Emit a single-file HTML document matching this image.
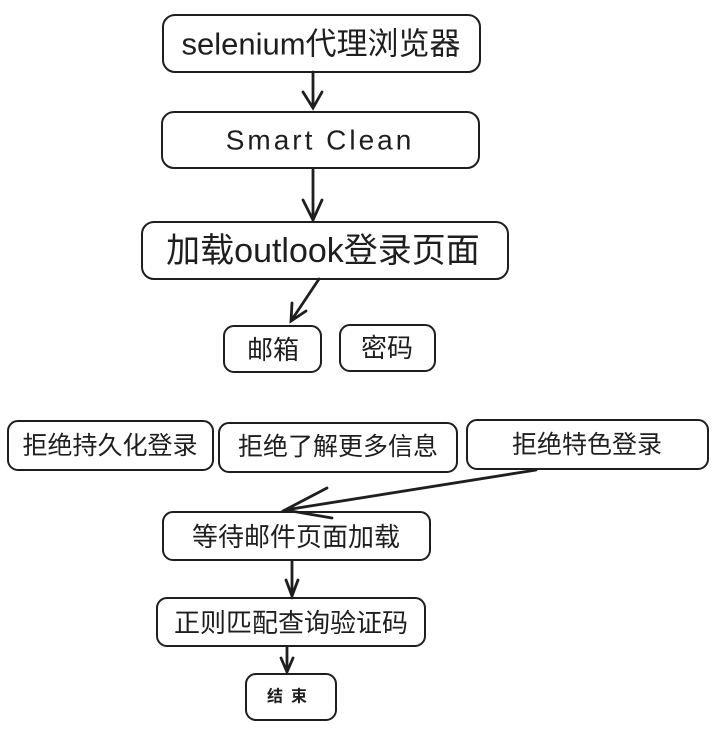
<!DOCTYPE html>
<html><head><meta charset="utf-8"><style>
html,body{margin:0;padding:0;background:#fff;}
svg text{font-family:"Liberation Sans","Noto Sans CJK SC",sans-serif;fill:#1e1e1e;dominant-baseline:central;text-anchor:middle;}
</style></head><body>
<svg width="712" height="724" viewBox="0 0 712 724" xmlns="http://www.w3.org/2000/svg">
<g fill="none" stroke="#1e1e1e" stroke-width="2">
<rect x="163" y="15" width="317" height="57" rx="12"/>
<rect x="162" y="112" width="317" height="56" rx="12"/>
<rect x="142" y="222" width="366" height="57" rx="12"/>
<rect x="224" y="326" width="97" height="46" rx="10"/>
<rect x="340" y="325" width="95" height="46" rx="10"/>
<rect x="8" y="421" width="205" height="49" rx="10"/>
<rect x="219" y="423" width="238" height="49" rx="10"/>
<rect x="467" y="420" width="241" height="49" rx="10"/>
<rect x="163" y="512" width="267" height="48" rx="10"/>
<rect x="157" y="598" width="268" height="48" rx="10"/>
<rect x="246" y="674" width="90" height="46" rx="10"/>
</g>
<g fill="none" stroke="#1e1e1e" stroke-width="2.8" stroke-linecap="round">
<path d="M313 72 L313 108 M303 92 L313 108 L322 92"/>
<path d="M313 170 L313 220 M303 200 L313 220 L322 200"/>
<path d="M319 279 L291 321 M292 303 L291 321 L306 311"/>
<path d="M536 470 L285 510 M327 488 L285 510 L332 518"/>
<path d="M292 561 L292 596 M286 580 L292 596 L298 580"/>
<path d="M287 647 L287 672 M281 658 L287 672 L293 658"/>
</g>
<text x="321" y="44" font-size="31">selenium代理浏览器</text>
<text x="320" y="140" font-size="28" letter-spacing="3">Smart Clean</text>
<text x="323" y="251" font-size="34">加载outlook登录页面</text>
<text x="273" y="350" font-size="26">邮箱</text>
<text x="387" y="348" font-size="26">密码</text>
<text x="110" y="446" font-size="25">拒绝持久化登录</text>
<text x="338" y="447" font-size="25">拒绝了解更多信息</text>
<text x="587" y="445" font-size="25">拒绝特色登录</text>
<text x="296" y="537" font-size="26">等待邮件页面加载</text>
<text x="291" y="623" font-size="26">正则匹配查询验证码</text>
<text x="291" y="697" font-size="16" font-weight="bold" letter-spacing="8">结束</text>
</svg>
</body></html>
